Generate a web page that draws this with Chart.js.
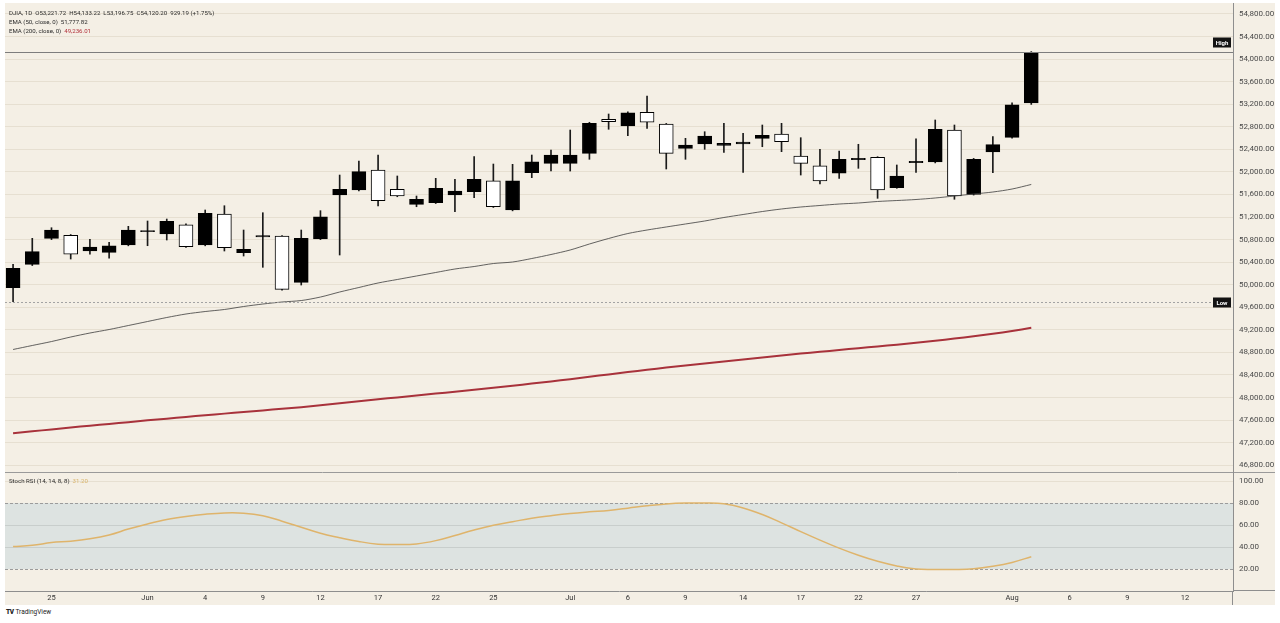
<!DOCTYPE html>
<html>
<head>
<meta charset="utf-8">
<title>DJIA 1D</title>
<script src="https://cdn.jsdelivr.net/npm/chart.js@4.4.1/dist/chart.umd.min.js"></script>
<style>
  html, body { margin: 0; padding: 0; background: #fff; }
  body { position: relative; width: 1280px; height: 623px; overflow: hidden; font-family: Roboto, 'Noto Sans', sans-serif; }
  #frame { position: absolute; left: 5px; top: 3px; width: 1270px; height: 602px; background: #f4efe5; }
  #mainBox { position: absolute; left: 0; top: 0; width: 1270px; height: 469px; }
  #rsiBox { position: absolute; left: 0; top: 469px; width: 1270px; height: 133px; }
  .legend { position: absolute; left: 4px; font-size: 6.1px; line-height: 9px; color: #2a2a2a; white-space: pre; }
  .red { color: #b2303a; }
  .gold { color: #d9b46a; }
  #brand { position: absolute; left: 6px; top: 608px; font-size: 6.5px; color: #222; }
  #brand b { font-weight: 900; letter-spacing: -0.5px; margin-right: 2px; }
</style>
</head>
<body>
<div id="frame">
  <div id="mainBox"><canvas id="mainChart"></canvas></div>
  <div id="rsiBox"><canvas id="rsiChart"></canvas></div>
  <div class="legend" id="priceLegend" style="top:5px"></div>
  <div class="legend" id="rsiLegend" style="top:473px"></div>
</div>
<div id="brand"><b>TV</b>TradingView</div>
<script>
// daily candles, bar index 0..53
const opens = [49947, 50362, 50823, 50876, 50598, 50575, 50704, 50940, 50899, 51064,
  50704, 51254, 50568, 50848, 50864, 50043, 50811, 51591, 51680, 52034,
  51692, 51426, 51454, 51591, 51649, 51844, 51325, 51986, 52153, 52153,
  52330, 52933, 52814, 53057, 52850, 52419, 52495, 52472, 52495, 52596,
  52672, 52282, 52110, 51976, 52218, 52259, 51720, 52165, 52176, 52743,
  51603, 52353, 52614, 53221.72];
const highs = [50362, 50823, 51011, 50890, 50805, 50752, 51036, 51130, 51165, 51080,
  51325, 51401, 50970, 51277, 50870, 50970, 51313, 51945, 52194, 52300,
  51928, 51573, 51887, 51869, 52270, 52140, 52135, 52300, 52389, 52743,
  52880, 53027, 53065, 53346, 52860, 52596, 52713, 52862, 52685, 52832,
  52862, 52607, 52401, 52371, 52490, 52270, 52123, 52589, 52921, 52832,
  52240, 52625, 53227, 54133.22];
const lows = [49699, 50340, 50800, 50456, 50540, 50469, 50690, 50692, 50793, 50660,
  50690, 50598, 50509, 50309, 49905, 49995, 50800, 50527, 51665, 51396,
  51560, 51383, 51440, 51295, 51543, 51370, 51310, 51898, 52016, 52016,
  52224, 52756, 52642, 52773, 52052, 52224, 52401, 52348, 51993, 52447,
  52359, 51945, 51786, 51887, 52064, 51532, 51710, 51993, 52160, 51515,
  51590, 51986, 52600, 53196.75];
const closes = [50291, 50586, 50970, 50540, 50669, 50692, 50970, 50962, 51125, 50674,
  51266, 50657, 50628, 50870, 49919, 50823, 51206, 51692, 52004, 51490,
  51573, 51515, 51710, 51662, 51869, 51383, 51844, 52181, 52300, 52300,
  52862, 52890, 53050, 52880, 52330, 52477, 52637, 52508, 52531, 52649,
  52536, 52153, 51839, 52224, 52240, 51680, 51928, 52187, 52756, 51573,
  52224, 52483, 53191.01, 54120.20];

const ema50 = [48852, 48923, 48993, 49073, 49144, 49206, 49277, 49348, 49419, 49481,
  49525, 49561, 49614, 49658, 49694, 49720, 49782, 49871, 49951, 50031,
  50093, 50155, 50217, 50279, 50323, 50376, 50403, 50465, 50536, 50616,
  50722, 50820, 50908, 50970, 51024, 51077, 51130, 51192, 51245, 51298,
  51343, 51378, 51405, 51431, 51449, 51476, 51493, 51511, 51538, 51573,
  51609, 51644, 51697, 51777.82];
const ema200 = [47368, 47401, 47435, 47469, 47501, 47532, 47564, 47596, 47626, 47657,
  47685, 47715, 47743, 47772, 47800, 47829, 47862, 47898, 47933, 47969,
  48002, 48036, 48070, 48103, 48139, 48174, 48210, 48247, 48286, 48325,
  48368, 48410, 48453, 48492, 48531, 48568, 48605, 48641, 48676, 48712,
  48745, 48779, 48811, 48843, 48875, 48907, 48938, 48970, 49006, 49045,
  49086, 49130, 49180, 49236.01];
const stochRsi = [40.5, 41.5, 44, 45.3, 47.5, 51, 56.3, 61, 65, 67.8,
  69.8, 71, 70.8, 68.5, 63.5, 58, 52.5, 48.5, 45, 42.6,
  42.2, 42.8, 45.8, 50.5, 55.5, 59.8, 63, 66.2, 68.5, 70.5,
  72, 73.3, 75.3, 77.5, 79.2, 80, 80, 79.3, 75.5, 69.5,
  62, 54, 46.3, 39, 32.5, 27, 22.8, 20, 19.6, 19.6,
  20.2, 22.5, 26, 31.2];

// time axis: bar index of each label
const dateTickPos = [2, 7, 10, 13, 16, 19, 22, 25, 29, 32, 35, 38, 41, 44, 47, 52, 55, 58, 61];
const dateTickLabels = ['25', 'Jun', '4', '9', '12', '17', '22', '25', 'Jul', '6', '9', '14', '17', '22', '27', 'Aug', '6', '9', '12'];
const priceTicks = [46800, 47200, 47600, 48000, 48400, 48800, 49200, 49600, 50000, 50400,
  50800, 51200, 51600, 52000, 52400, 52800, 53200, 53600, 54000, 54400, 54800];
const rsiTicks = [20, 40, 60, 80, 100];

const X_MIN = -0.42;
const X_MAX = 63.5;
const AXIS_W = 42;
const FONT = 'Roboto, "Noto Sans", sans-serif';
const GRID = '#e6dfd1';
const AXIS_LINE = '#8e8e8e';

const fmt = v => v.toLocaleString('en-US', { minimumFractionDigits: 2, maximumFractionDigits: 2 });
const last = arr => arr[arr.length - 1];

// header legends
const change = last(closes) - closes[closes.length - 2];
const pct = change / closes[closes.length - 2] * 100;
document.getElementById('priceLegend').innerHTML =
  `DJIA, 1D  O${fmt(last(opens))}  H${fmt(last(highs))}  L${fmt(last(lows))}  C${fmt(last(closes))}  ${fmt(change)} (+${pct.toFixed(2)}%)\n` +
  `EMA (50, close, 0)  ${fmt(last(ema50))}\n` +
  `EMA (200, close, 0)  <span class="red">${fmt(last(ema200))}</span>`;
document.getElementById('rsiLegend').innerHTML =
  `Stoch RSI (14, 14, 8, 8)  <span class="gold">${fmt(last(stochRsi))}</span>`;

Chart.defaults.font.family = FONT;
Chart.defaults.animation = false;

const isUp = i => closes[i] >= opens[i];

// keep the plot area flush with the canvas edges
const noPad = scale => {
  scale.paddingTop = 0;
  scale.paddingBottom = 0;
  scale.paddingLeft = 0;
  scale.paddingRight = 0;
};

const highLowPlugin = {
  id: 'highLow',
  afterDatasetsDraw(chart) {
    const { ctx, chartArea, scales } = chart;
    const hi = Math.max(...highs);
    const lo = Math.min(...lows);
    const yHi = Math.round(scales.y.getPixelForValue(hi)) + 0.5;
    const yLo = Math.round(scales.y.getPixelForValue(lo)) + 0.5;
    ctx.save();
    ctx.lineWidth = 1;
    ctx.strokeStyle = '#7d7d7d';
    ctx.beginPath();
    ctx.moveTo(chartArea.left, yHi);
    ctx.lineTo(chartArea.right, yHi);
    ctx.stroke();
    ctx.strokeStyle = '#a3a3a3';
    ctx.setLineDash([2, 2]);
    ctx.beginPath();
    ctx.moveTo(chartArea.left, yLo);
    ctx.lineTo(chartArea.right, yLo);
    ctx.stroke();
    ctx.setLineDash([]);
    const tag = (text, cy) => {
      const w = 18;
      const h = 10;
      const x = chartArea.right - w - 2;
      ctx.fillStyle = '#131313';
      ctx.fillRect(x, cy - h / 2, w, h);
      ctx.fillStyle = '#fff';
      ctx.font = `bold 6px ${FONT}`;
      ctx.textAlign = 'center';
      ctx.textBaseline = 'middle';
      ctx.fillText(text, x + w / 2, cy + 0.5);
    };
    tag('High', yHi - 10);
    tag('Low', yLo);
    ctx.restore();
  },
};

new Chart(document.getElementById('mainChart'), {
  type: 'bar',
  data: {
    datasets: [
      {
        type: 'line',
        label: 'EMA 200',
        data: ema200.map((v, i) => ({ x: i, y: v })),
        borderColor: '#a8323b',
        borderWidth: 2,
        pointRadius: 0,
        tension: 0.3,
        order: 0,
      },
      {
        type: 'line',
        label: 'EMA 50',
        data: ema50.map((v, i) => ({ x: i, y: v })),
        borderColor: '#3c3c3c',
        borderWidth: 0.8,
        pointRadius: 0,
        tension: 0.3,
        order: 0,
      },
      {
        label: 'Body',
        data: opens.map((o, i) => ({ x: i, y: [o, closes[i]] })),
        backgroundColor: ctx => (isUp(ctx.dataIndex) ? '#000' : '#fff'),
        borderColor: '#000',
        borderWidth: 1,
        borderSkipped: false,
        barThickness: 14,
        grouped: false,
        order: 1,
      },
      {
        label: 'Wick',
        data: lows.map((l, i) => ({ x: i, y: [l, highs[i]] })),
        backgroundColor: '#1a1a1a',
        borderWidth: 0,
        barThickness: 1,
        grouped: false,
        order: 2,
      },
    ],
  },
  options: {
    responsive: true,
    maintainAspectRatio: false,
    layout: { padding: 0 },
    plugins: { legend: { display: false }, tooltip: { enabled: false } },
    scales: {
      x: {
        type: 'linear',
        min: X_MIN,
        max: X_MAX,
        offset: false,
        display: false,
        afterFit: noPad,
      },
      y: {
        position: 'right',
        min: 46680,
        max: 54995,
        afterFit: scale => { scale.width = AXIS_W; noPad(scale); },
        afterBuildTicks: scale => { scale.ticks = priceTicks.map(v => ({ value: v })); },
        grid: { color: GRID, drawTicks: false },
        border: { color: AXIS_LINE },
        ticks: {
          padding: 6,
          color: '#4a4a4a',
          font: { size: 8 },
          callback: v => fmt(v),
        },
      },
    },
  },
  plugins: [highLowPlugin],
});

const rsiBandPlugin = {
  id: 'rsiBand',
  beforeDraw(chart) {
    const { ctx, chartArea, scales } = chart;
    const y80 = scales.y.getPixelForValue(80);
    const y20 = scales.y.getPixelForValue(20);
    ctx.save();
    ctx.fillStyle = '#dde3e1';
    ctx.fillRect(chartArea.left, y80, chartArea.right - chartArea.left, y20 - y80);
    // separator between the panes
    ctx.strokeStyle = '#9a9a9a';
    ctx.lineWidth = 1;
    ctx.beginPath();
    ctx.moveTo(0, chartArea.top + 0.5);
    ctx.lineTo(chart.width, chartArea.top + 0.5);
    ctx.stroke();
    ctx.restore();
  },
  beforeDatasetsDraw(chart) {
    const { ctx, chartArea, scales } = chart;
    ctx.save();
    ctx.strokeStyle = '#9b9b9b';
    ctx.lineWidth = 1;
    ctx.setLineDash([3, 2]);
    [80, 20].forEach(v => {
      const y = Math.round(scales.y.getPixelForValue(v)) + 0.5;
      ctx.beginPath();
      ctx.moveTo(chartArea.left, y);
      ctx.lineTo(chartArea.right, y);
      ctx.stroke();
    });
    ctx.restore();
  },
  afterDraw(chart) {
    const { ctx, chartArea } = chart;
    ctx.save();
    ctx.strokeStyle = AXIS_LINE;
    ctx.lineWidth = 1;
    ctx.beginPath();
    ctx.moveTo(chartArea.right - 0.5, chartArea.bottom);
    ctx.lineTo(chartArea.right - 0.5, chart.height);
    ctx.moveTo(chartArea.right, chartArea.bottom - 0.5);
    ctx.lineTo(chart.width, chartArea.bottom - 0.5);
    ctx.stroke();
    ctx.restore();
  },
};

new Chart(document.getElementById('rsiChart'), {
  type: 'line',
  data: {
    datasets: [
      {
        label: 'Stoch RSI',
        data: stochRsi.map((v, i) => ({ x: i, y: v })),
        borderColor: '#dfb46b',
        borderWidth: 1.5,
        pointRadius: 0,
        tension: 0.4,
      },
    ],
  },
  options: {
    responsive: true,
    maintainAspectRatio: false,
    layout: { padding: 0 },
    plugins: { legend: { display: false }, tooltip: { enabled: false } },
    scales: {
      x: {
        type: 'linear',
        min: X_MIN,
        max: X_MAX,
        offset: false,
        afterFit: scale => { scale.height = 14; noPad(scale); },
        afterBuildTicks: scale => { scale.ticks = dateTickPos.map(v => ({ value: v })); },
        grid: { display: false, drawTicks: false },
        border: { color: AXIS_LINE },
        ticks: {
          padding: 3,
          color: '#333',
          font: { size: 7.5 },
          maxRotation: 0,
          autoSkip: false,
          callback: v => dateTickLabels[dateTickPos.indexOf(v)],
        },
      },
      y: {
        position: 'right',
        min: 0,
        max: 108.2,
        afterFit: scale => { scale.width = AXIS_W; noPad(scale); },
        afterBuildTicks: scale => { scale.ticks = rsiTicks.map(v => ({ value: v })); },
        grid: {
          drawTicks: false,
          color: ctx => {
            const v = ctx.tick && ctx.tick.value;
            if (v === 80 || v === 20) return 'rgba(0,0,0,0)';
            if (v === 100) return GRID;
            return '#c8cecc';
          },
        },
        border: { color: AXIS_LINE },
        ticks: {
          padding: 6,
          color: '#4a4a4a',
          font: { size: 8 },
          callback: v => fmt(v),
        },
      },
    },
  },
  plugins: [rsiBandPlugin],
});
</script>
</body>
</html>
